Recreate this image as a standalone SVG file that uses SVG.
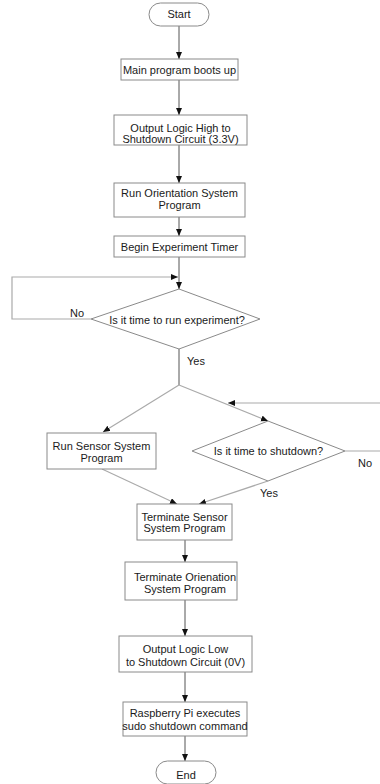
<svg xmlns="http://www.w3.org/2000/svg" width="380" height="784" viewBox="0 0 380 784">
<style>
.box{fill:#fff;stroke:#8a8a8a;stroke-width:1}
.t{font-family:"Liberation Sans",Arial,sans-serif;font-size:11px;fill:#1a1a1a;text-anchor:middle}
.l{font-family:"Liberation Sans",Arial,sans-serif;font-size:11px;fill:#1a1a1a}
.c{fill:none;stroke:#555;stroke-width:1}
.g{fill:none;stroke:#aaa;stroke-width:1.2}
</style>
<defs>
<marker id="a" markerWidth="8" markerHeight="8" refX="7" refY="3" orient="auto" markerUnits="userSpaceOnUse">
<path d="M0,0 L7,3 L0,6 z" fill="#111"/>
</marker>
</defs>
<rect width="380" height="784" fill="#fff"/>
<g id="connectors">
<line class="c" x1="179" y1="26" x2="179" y2="59" marker-end="url(#a)"/>
<line class="c" x1="179" y1="80" x2="179" y2="115" marker-end="url(#a)"/>
<line class="c" x1="179" y1="145" x2="179" y2="183" marker-end="url(#a)"/>
<line class="c" x1="179" y1="217" x2="179" y2="236" marker-end="url(#a)"/>
<line class="c" x1="179" y1="257" x2="179" y2="289" marker-end="url(#a)"/>
<polyline class="g" points="91,319 12,319 12,277 178,277" marker-end="url(#a)"/>
<line class="c" x1="179" y1="349" x2="179" y2="385"/>
<line class="g" x1="179" y1="385" x2="103" y2="432" marker-end="url(#a)"/>
<line class="g" x1="179" y1="385" x2="268" y2="421" marker-end="url(#a)"/>
<line class="g" x1="380" y1="403" x2="228" y2="403" marker-end="url(#a)"/>
<line class="g" x1="345" y1="451" x2="380" y2="451"/>
<line class="g" x1="268" y1="481" x2="199" y2="504" marker-end="url(#a)"/>
<line class="g" x1="102" y1="469" x2="177" y2="504" marker-end="url(#a)"/>
<line class="c" x1="185" y1="540" x2="185" y2="562" marker-end="url(#a)"/>
<line class="c" x1="185" y1="600" x2="185" y2="636" marker-end="url(#a)"/>
<line class="c" x1="185" y1="672" x2="185" y2="702" marker-end="url(#a)"/>
<line class="c" x1="185" y1="736" x2="185" y2="761" marker-end="url(#a)"/>
<text class="l" x="70" y="317">No</text>
<text class="l" x="187" y="365">Yes</text>
<text class="l" x="358" y="467">No</text>
<text class="l" x="260" y="497">Yes</text>
</g>
<g id="start"><rect class="box" x="149" y="3" width="60" height="23" rx="11.5"/><text class="t" x="179" y="18">Start</text></g>
<g id="boot"><rect class="box" x="121" y="59" width="117" height="21"/><text class="t" x="179.5" y="73.5">Main program boots up</text></g>
<g id="high"><rect class="box" x="114" y="115" width="133" height="30"/><text class="t" x="180.5" y="132">Output Logic High to</text><text class="t" x="180.5" y="143">Shutdown Circuit (3.3V)</text></g>
<g id="orient"><rect class="box" x="114" y="183" width="131" height="34"/><text class="t" x="179.5" y="197">Run Orientation System</text><text class="t" x="179.5" y="209">Program</text></g>
<g id="timer"><rect class="box" x="114" y="236" width="131" height="21"/><text class="t" x="179.5" y="250.5">Begin Experiment Timer</text></g>
<g id="dec1"><polygon class="box" points="179,289 260,319 179,349 91,319"/><text class="t" x="177" y="323.5">Is it time to run experiment?</text></g>
<g id="sensor"><rect class="box" x="47" y="433" width="109" height="36"/><text class="t" x="101.5" y="449.5">Run Sensor System</text><text class="t" x="101.5" y="461.5">Program</text></g>
<g id="dec2"><polygon class="box" points="268,421 345,451 268,481 192,451"/><text class="t" x="268.5" y="455">Is it time to shutdown?</text></g>
<g id="termsensor"><rect class="box" x="137" y="504" width="95" height="36"/><text class="t" x="184.5" y="521">Terminate Sensor</text><text class="t" x="184.5" y="532">System Program</text></g>
<g id="termorient"><rect class="box" x="125" y="562" width="112" height="38"/><text class="t" x="185" y="581">Terminate Orienation</text><text class="t" x="185" y="593">System Program</text></g>
<g id="low"><rect class="box" x="119" y="636" width="133" height="36"/><text class="t" x="185.5" y="653">Output Logic Low</text><text class="t" x="185.5" y="666">to Shutdown Circuit (0V)</text></g>
<g id="pi"><rect class="box" x="123" y="702" width="124" height="34"/><text class="t" x="185" y="717">Raspberry Pi executes</text><text class="t" x="185" y="730">sudo shutdown command</text></g>
<g id="end"><rect class="box" x="156" y="761" width="60" height="23" rx="11.5"/><text class="t" x="186" y="779">End</text></g>
</svg>
